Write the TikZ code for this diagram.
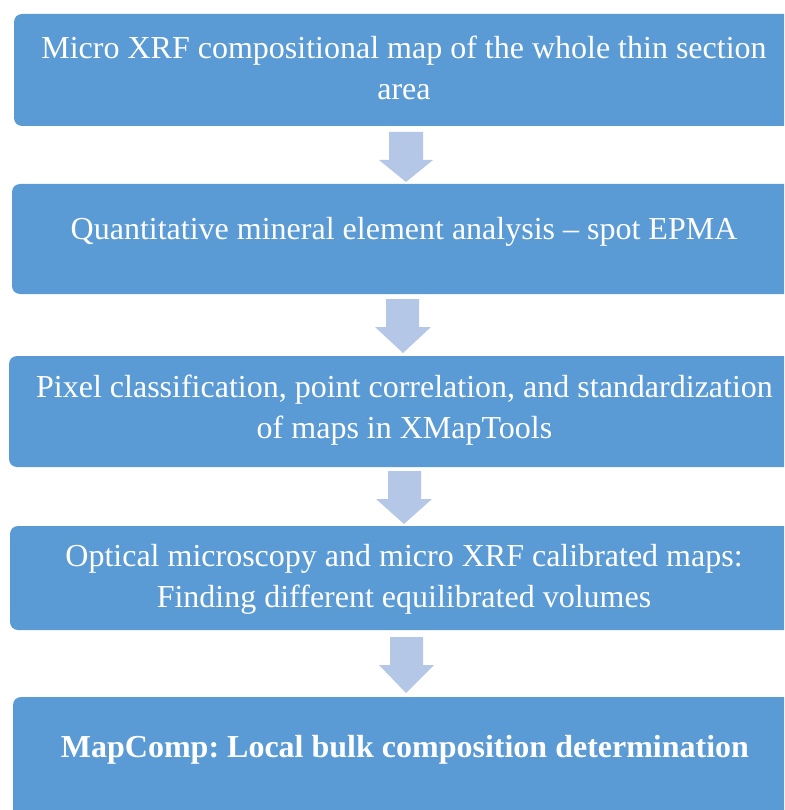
\documentclass[tikz,border=0pt]{standalone}
\usepackage{fontspec}
\setmainfont{Liberation Serif}
\frenchspacing
\definecolor{boxblue}{HTML}{5B9BD5}
\definecolor{arrowblue}{HTML}{B4C7E7}
\tikzset{
  stagebox/.style={fill=boxblue, draw=none, rounded corners=8pt, inner sep=0pt},
  stagetext/.style={text=white, font=\fontsize{32}{41}\selectfont, align=center, inner sep=0pt},
  blockarrow/.style={fill=arrowblue, draw=none}
}
\begin{document}
\begin{tikzpicture}[x=1pt,y=-1pt]
\useasboundingbox (0,0) rectangle (784,810);
\begin{scope}
\clip (0,0) rectangle (784,810);
% boxes
\node[stagebox, minimum width=786pt, minimum height=112pt] (b1) at (407,70) {};
\node[stagebox, minimum width=788pt, minimum height=110pt] (b2) at (406,239) {};
\node[stagebox, minimum width=791pt, minimum height=111pt] (b3) at (404.5,411.5) {};
\node[stagebox, minimum width=790pt, minimum height=104pt] (b4) at (405,578) {};
\node[stagebox, minimum width=788pt, minimum height=130pt] (b5) at (407,762) {};
% texts
\node[stagetext] (t1) at (404,68) {Micro XRF compositional map of the whole thin section\\area};
\node[stagetext] (t2) at (404,232) {Quantitative mineral element analysis -- spot EPMA};
\node[stagetext] (t3) at (404.5,410) {Pixel classification, point correlation, and standardization\\of maps in XMapTools};
\node[stagetext] (t4) at (404,579) {Optical microscopy and micro XRF calibrated maps:\\Finding different equilibrated volumes};
\node[stagetext, font=\fontsize{32}{41}\selectfont\bfseries] (t5) at (405,750) {MapComp: Local bulk composition determination};
% arrows
\fill[blockarrow] (389,132) -- (423,132) -- (423,160) -- (433,160) -- (406,182) -- (379,160) -- (389,160) -- cycle;
\fill[blockarrow] (386,299) -- (419,299) -- (419,327) -- (431,327) -- (403,353) -- (375,327) -- (386,327) -- cycle;
\fill[blockarrow] (388,471) -- (421,471) -- (421,499) -- (432,499) -- (404,524) -- (376,499) -- (388,499) -- cycle;
\fill[blockarrow] (390,637) -- (423,637) -- (423,665) -- (434,665) -- (406,693) -- (379,665) -- (390,665) -- cycle;
\end{scope}
\end{tikzpicture}
\end{document}
